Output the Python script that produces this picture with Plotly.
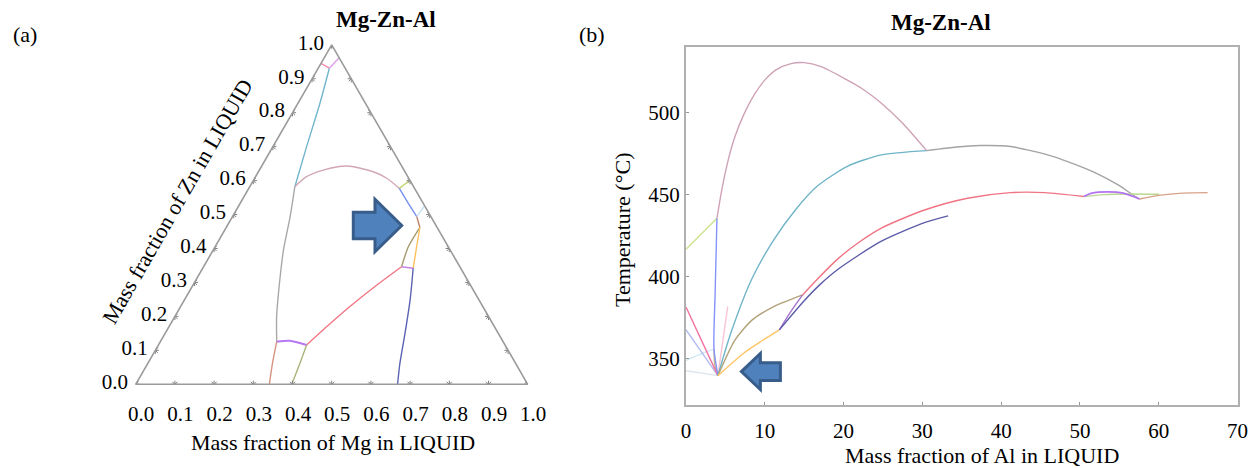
import plotly.graph_objects as go

W, H = 1255, 468
FONT = "Liberation Serif"

# ---------------- Panel (a): ternary valley lines, mass fractions (Mg, Zn) ----------------
TERN_TICKS = [0.0, 0.1, 0.2, 0.3, 0.4, 0.5, 0.6, 0.7, 0.8, 0.9, 1.0]

A_TEAL_MG = [0.115, 0.086, 0.056, 0.0285]
A_TEAL_ZN = [0.582, 0.700, 0.828, 0.931]
A_PINKTOP_MG = [0.0, 0.0285]
A_PINKTOP_ZN = [0.945, 0.931]
A_LAVTOP_MG = [0.0285, 0.038]
A_LAVTOP_ZN = [0.931, 0.962]
A_MAUVE_MG = [0.115, 0.130, 0.163, 0.217, 0.293, 0.337, 0.384]
A_MAUVE_ZN = [0.582, 0.6115, 0.631, 0.643, 0.626, 0.607, 0.577]
A_GREY_MG = [0.115, 0.147, 0.179, 0.218, 0.260, 0.297]
A_GREY_ZN = [0.582, 0.494, 0.396, 0.2975, 0.199, 0.1255]
A_YGREEN_MG = [0.384, 0.399]
A_YGREEN_ZN = [0.577, 0.601]
A_BLUE_MG = [0.384, 0.429, 0.470]
A_BLUE_ZN = [0.577, 0.533, 0.494]
A_LCYAN_MG = [0.470, 0.474]
A_LCYAN_ZN = [0.494, 0.524]
A_BROWN_MG = [0.470, 0.494]
A_BROWN_ZN = [0.494, 0.462]
A_OLIVE_MG = [0.494, 0.493, 0.505]
A_OLIVE_ZN = [0.462, 0.405, 0.3464]
A_ORANGE_MG = [0.494, 0.514, 0.537]
A_ORANGE_ZN = [0.462, 0.4053, 0.3417]
A_PURPLE1_MG = [0.505, 0.537]
A_PURPLE1_ZN = [0.3464, 0.3417]
A_NAVY_MG = [0.537, 0.576, 0.612, 0.643, 0.668]
A_NAVY_ZN = [0.3417, 0.248, 0.150, 0.062, 0.0]
A_RED_MG = [0.505, 0.469, 0.436, 0.406, 0.378]
A_RED_ZN = [0.3464, 0.2925, 0.2365, 0.1776, 0.1158]
A_PURPLE2_MG = [0.297, 0.329, 0.378]
A_PURPLE2_ZN = [0.1255, 0.1284, 0.1158]
A_SALMON_MG = [0.297, 0.318, 0.341]
A_SALMON_ZN = [0.1255, 0.062, 0.0]
A_OLGREEN_MG = [0.378, 0.388, 0.398]
A_OLGREEN_ZN = [0.1158, 0.062, 0.0]

# ---------------- Panel (b): liquidus temperature vs Al (mass %) ----------------
X_TICKS = [0, 10, 20, 30, 40, 50, 60, 70]
Y_TICKS = [350, 400, 450, 500]

B_MAUVE_AL = [3.93, 4.59, 5.41, 6.23, 7.32, 8.69, 10.05, 11.42, 13.33, 14.97, 17.15, 20.43, 22.6, 24.8, 27.5, 30.54]
B_MAUVE_T = [435.5, 454.0, 472.0, 485.5, 498.5, 511.0, 520.0, 526.0, 529.8, 530.4, 527.9, 519.8, 513.7, 505.6, 493.4, 476.7]
B_TEAL_AL = [4.05, 5.68, 8.41, 11.14, 13.88, 16.6, 20.43, 24.8, 30.54]
B_TEAL_T = [339.5, 365.3, 399.0, 422.3, 440.5, 454.8, 467.0, 474.1, 476.7]
B_GREY_AL = [30.54, 33.0, 37.37, 41.2, 46.65, 52.1, 54.85, 57.03, 57.58]
B_GREY_T = [476.7, 478.2, 479.8, 479.2, 473.1, 462.9, 455.8, 448.7, 447.2]
B_RED_AL = [14.8, 16.6, 19.34, 22.0, 24.8, 30.27, 35.73, 41.19, 45.56, 50.48]
B_RED_T = [388.7, 398.0, 411.0, 421.0, 429.5, 440.5, 447.7, 451.1, 451.1, 448.7]
B_NAVY_AL = [11.85, 14.97, 17.0, 19.34, 24.8, 30.27, 33.27]
B_NAVY_T = [367.4, 385.0, 395.0, 404.5, 421.5, 432.8, 436.9]
B_OLIVE_AL = [4.05, 6.23, 8.41, 11.14, 14.8]
B_OLIVE_T = [339.5, 361.3, 373.5, 381.6, 388.7]
B_ORANGE_AL = [4.05, 7.32, 9.5, 11.85]
B_ORANGE_T = [339.5, 353.2, 360.3, 367.4]
B_PURPLE1_AL = [11.85, 13.3, 14.8]
B_PURPLE1_T = [367.4, 378.5, 388.7]
B_LGREEN_AL = [0.0, 3.93]
B_LGREEN_T = [416.6, 435.5]
B_BLUE_AL = [3.93, 3.7, 3.55, 4.05]
B_BLUE_T = [435.5, 390.0, 356.0, 339.5]
B_PINK_AL = [0.0, 4.05]
B_PINK_T = [381.3, 339.5]
B_LAV_AL = [0.0, 4.05]
B_LAV_T = [367.5, 339.5]
B_LCYAN_AL = [0.0, 2.7, 3.55]
B_LCYAN_T = [348.8, 354.3, 355.5]
B_KHAKI_AL = [3.55, 3.65, 4.05]
B_KHAKI_T = [355.5, 346.0, 339.5]
B_LGBLUE_AL = [0.0, 4.05]
B_LGBLUE_T = [342.5, 339.5]
B_LPINK_AL = [4.05, 5.3]
B_LPINK_T = [339.5, 381.7]
B_GREEN_AL = [50.48, 53.0, 56.0, 60.05]
B_GREEN_T = [448.7, 449.9, 450.3, 450.1]
B_PURPLE2_AL = [50.48, 51.5, 53.5, 55.5, 57.58]
B_PURPLE2_T = [448.7, 450.8, 451.6, 450.8, 447.2]
B_BROWN_AL = [57.58, 60.0, 63.0, 66.2]
B_BROWN_T = [447.2, 449.4, 450.8, 451.1]

fig = go.Figure()


def tern(mg, zn, color, width=1.4):
    fig.add_trace(go.Scatterternary(a=zn, c=mg, mode="lines",
                                    line=dict(color=color, width=width, shape="spline", smoothing=0.7),
                                    showlegend=False, hoverinfo="skip"))


tern(A_TEAL_MG, A_TEAL_ZN, "#72b6cc")
tern(A_PINKTOP_MG, A_PINKTOP_ZN, "#f08cb0")
tern(A_LAVTOP_MG, A_LAVTOP_ZN, "#e0a0f0")
tern(A_MAUVE_MG, A_MAUVE_ZN, "#d2a6b6")
tern(A_GREY_MG, A_GREY_ZN, "#a8a8a8")
tern(A_YGREEN_MG, A_YGREEN_ZN, "#c2d86e")
tern(A_BLUE_MG, A_BLUE_ZN, "#7890f2")
tern(A_LCYAN_MG, A_LCYAN_ZN, "#c4e2f4")
tern(A_BROWN_MG, A_BROWN_ZN, "#c0806a")
tern(A_OLIVE_MG, A_OLIVE_ZN, "#a89a6c")
tern(A_ORANGE_MG, A_ORANGE_ZN, "#ffc060")
tern(A_PURPLE1_MG, A_PURPLE1_ZN, "#c486e6")
tern(A_NAVY_MG, A_NAVY_ZN, "#5a62b4")
tern(A_RED_MG, A_RED_ZN, "#f27684")
tern(A_PURPLE2_MG, A_PURPLE2_ZN, "#b878f4", 2.0)
tern(A_SALMON_MG, A_SALMON_ZN, "#d69480")
tern(A_OLGREEN_MG, A_OLGREEN_ZN, "#a8b47a")

# tick crosses on the three triangle edges (bottom: Zn=0, left: Mg=0, right: Al=0)
fig.add_trace(go.Scatterternary(
    a=[0.0] * len(TERN_TICKS) + TERN_TICKS + TERN_TICKS,
    c=TERN_TICKS + [0.0] * len(TERN_TICKS) + [1 - v for v in TERN_TICKS],
    mode="markers", marker=dict(symbol="asterisk-open", size=6, line=dict(color="#8a8a8a", width=1)),
    showlegend=False, hoverinfo="skip"))


def line_b(al, t, color, width=1.4):
    fig.add_trace(go.Scatter(x=al, y=t, mode="lines", xaxis="x", yaxis="y",
                             line=dict(color=color, width=width, shape="spline", smoothing=0.7),
                             showlegend=False, hoverinfo="skip"))


line_b(B_LGBLUE_AL, B_LGBLUE_T, "#dce4ee")
line_b(B_LCYAN_AL, B_LCYAN_T, "#cfe9f7")
line_b(B_KHAKI_AL, B_KHAKI_T, "#c8b888")
line_b(B_LPINK_AL, B_LPINK_T, "#f8c4d6")
line_b(B_LAV_AL, B_LAV_T, "#b4bcf2")
line_b(B_PINK_AL, B_PINK_T, "#f274a2")
line_b(B_LGREEN_AL, B_LGREEN_T, "#cae28c")
line_b(B_BLUE_AL, B_BLUE_T, "#8492fa")
line_b(B_MAUVE_AL, B_MAUVE_T, "#cea2b6")
line_b(B_TEAL_AL, B_TEAL_T, "#70b4c8")
line_b(B_GREY_AL, B_GREY_T, "#a4a4a4")
line_b(B_OLIVE_AL, B_OLIVE_T, "#b2a27a")
line_b(B_ORANGE_AL, B_ORANGE_T, "#ffc464")
line_b(B_PURPLE1_AL, B_PURPLE1_T, "#a474cc")
line_b(B_RED_AL, B_RED_T, "#f07484")
line_b(B_NAVY_AL, B_NAVY_T, "#5c5caa")
line_b(B_GREEN_AL, B_GREEN_T, "#bcd890")
line_b(B_PURPLE2_AL, B_PURPLE2_T, "#b474f2", 1.8)
line_b(B_BROWN_AL, B_BROWN_T, "#d8a28a")

# ---------------- layout ----------------
TERN_X = [135.7, 527.7]
TERN_Y = [44.8, 384.3]
PLOT_X = [686.0, 1237.5]
PLOT_Y = [47.0, 405.0]


def px(x):
    return x / W


def py(y):
    return 1 - y / H


tern_axis_common = dict(
    tickmode="array", tickvals=TERN_TICKS,
    tickfont=dict(family=FONT, size=21, color="black"),
    ticks="outside", ticklen=4, tickwidth=1, tickcolor="rgba(0,0,0,0)",
    showline=True, linecolor="#9a9a9a", linewidth=1.6,
    showgrid=False, title=dict(text=""), min=0,
)

fig.update_layout(
    width=W, height=H, template="none",
    paper_bgcolor="white", plot_bgcolor="white",
    margin=dict(l=0, r=0, t=0, b=0),
    showlegend=False,
    ternary=dict(
        sum=1, bgcolor="white",
        domain=dict(x=[px(TERN_X[0]), px(TERN_X[1])], y=[py(TERN_Y[1]), py(TERN_Y[0])]),
        aaxis=dict(tern_axis_common, ticktext=[f"{v:.1f}" for v in TERN_TICKS]),
        baxis=dict(tern_axis_common, ticklen=11, ticktext=[f"{1 - v:.1f}" for v in TERN_TICKS]),
        caxis=dict(tern_axis_common, showticklabels=False),
    ),
    xaxis=dict(domain=[px(PLOT_X[0]), px(PLOT_X[1])], range=[0, 70],
               tickmode="array", tickvals=X_TICKS, ticks="inside", ticklen=3, tickcolor="#999",
               tickfont=dict(family=FONT, size=21, color="black"), ticklabelstandoff=6,
               showline=True, mirror=True, linecolor="#b0b0b0", linewidth=2,
               showgrid=False, zeroline=False, anchor="y", automargin=False),
    yaxis=dict(domain=[py(PLOT_Y[1]), py(PLOT_Y[0])], range=[321.6, 539.9],
               tickmode="array", tickvals=Y_TICKS, ticks="inside", ticklen=3, tickcolor="#999",
               tickfont=dict(family=FONT, size=21, color="black"),
               showline=True, mirror=True, linecolor="#b0b0b0", linewidth=2,
               showgrid=False, zeroline=False, anchor="x", automargin=False),
)

# ---------------- text ----------------
def ann(text, x, y, size=22, bold=False, angle=0, xanchor="center"):
    fig.add_annotation(text=f"<b>{text}</b>" if bold else text, x=px(x), y=py(y),
                       xref="paper", yref="paper", showarrow=False, textangle=angle,
                       xanchor=xanchor, yanchor="middle",
                       font=dict(family=FONT, size=size, color="black"))


ann("(a)", 25, 35, 22)
ann("(b)", 592, 35, 22)
ann("Mg-Zn-Al", 386, 20, 23, bold=True)
ann("Mg-Zn-Al", 941, 22, 23, bold=True)
ann("Mass fraction of Mg in LIQUID", 333, 442, 22)
ann("Mass fraction of Zn in LIQUID", 177, 201, 22, angle=-60)
ann("Mass fraction of Al in LIQUID", 982, 455, 22)
ann("Temperature (°C)", 622, 230, 22, angle=-90)

# ---------------- block arrows ----------------
ARROW_FILL = "#4f81bd"
ARROW_EDGE = "#385d8a"
# panel (a) arrow, pixel geometry: tail x, head-base x, tip x, centre y, half body, half head
ARROW_A = dict(tail=353.3, base=375.0, tip=401.7, cy=225.5, body=13.3, head=26.2)
# panel (b) arrow, data geometry (Al %, deg C)
ARROW_B = dict(tail=11.98, base=9.44, tip=7.03, cy=342.0, body=5.4, head=11.0)

a = ARROW_A
pts = [(a["tail"], a["cy"] - a["body"]), (a["base"], a["cy"] - a["body"]), (a["base"], a["cy"] - a["head"]),
       (a["tip"], a["cy"]), (a["base"], a["cy"] + a["head"]), (a["base"], a["cy"] + a["body"]),
       (a["tail"], a["cy"] + a["body"])]
path = "M " + " L ".join(f"{px(x):.5f},{py(y):.5f}" for x, y in pts) + " Z"
fig.add_shape(type="path", path=path, xref="paper", yref="paper",
              fillcolor=ARROW_FILL, line=dict(color=ARROW_EDGE, width=3))

b = ARROW_B
pts = [(b["tail"], b["cy"] + b["body"]), (b["base"], b["cy"] + b["body"]), (b["base"], b["cy"] + b["head"]),
       (b["tip"], b["cy"]), (b["base"], b["cy"] - b["head"]), (b["base"], b["cy"] - b["body"]),
       (b["tail"], b["cy"] - b["body"])]
path = "M " + " L ".join(f"{x:.4f},{y:.4f}" for x, y in pts) + " Z"
fig.add_shape(type="path", path=path, xref="x", yref="y",
              fillcolor=ARROW_FILL, line=dict(color=ARROW_EDGE, width=3))

fig.write_html("out.html", config={"displayModeBar": False},
               post_script="document.body.style.margin='0px';document.body.style.padding='0px';")
